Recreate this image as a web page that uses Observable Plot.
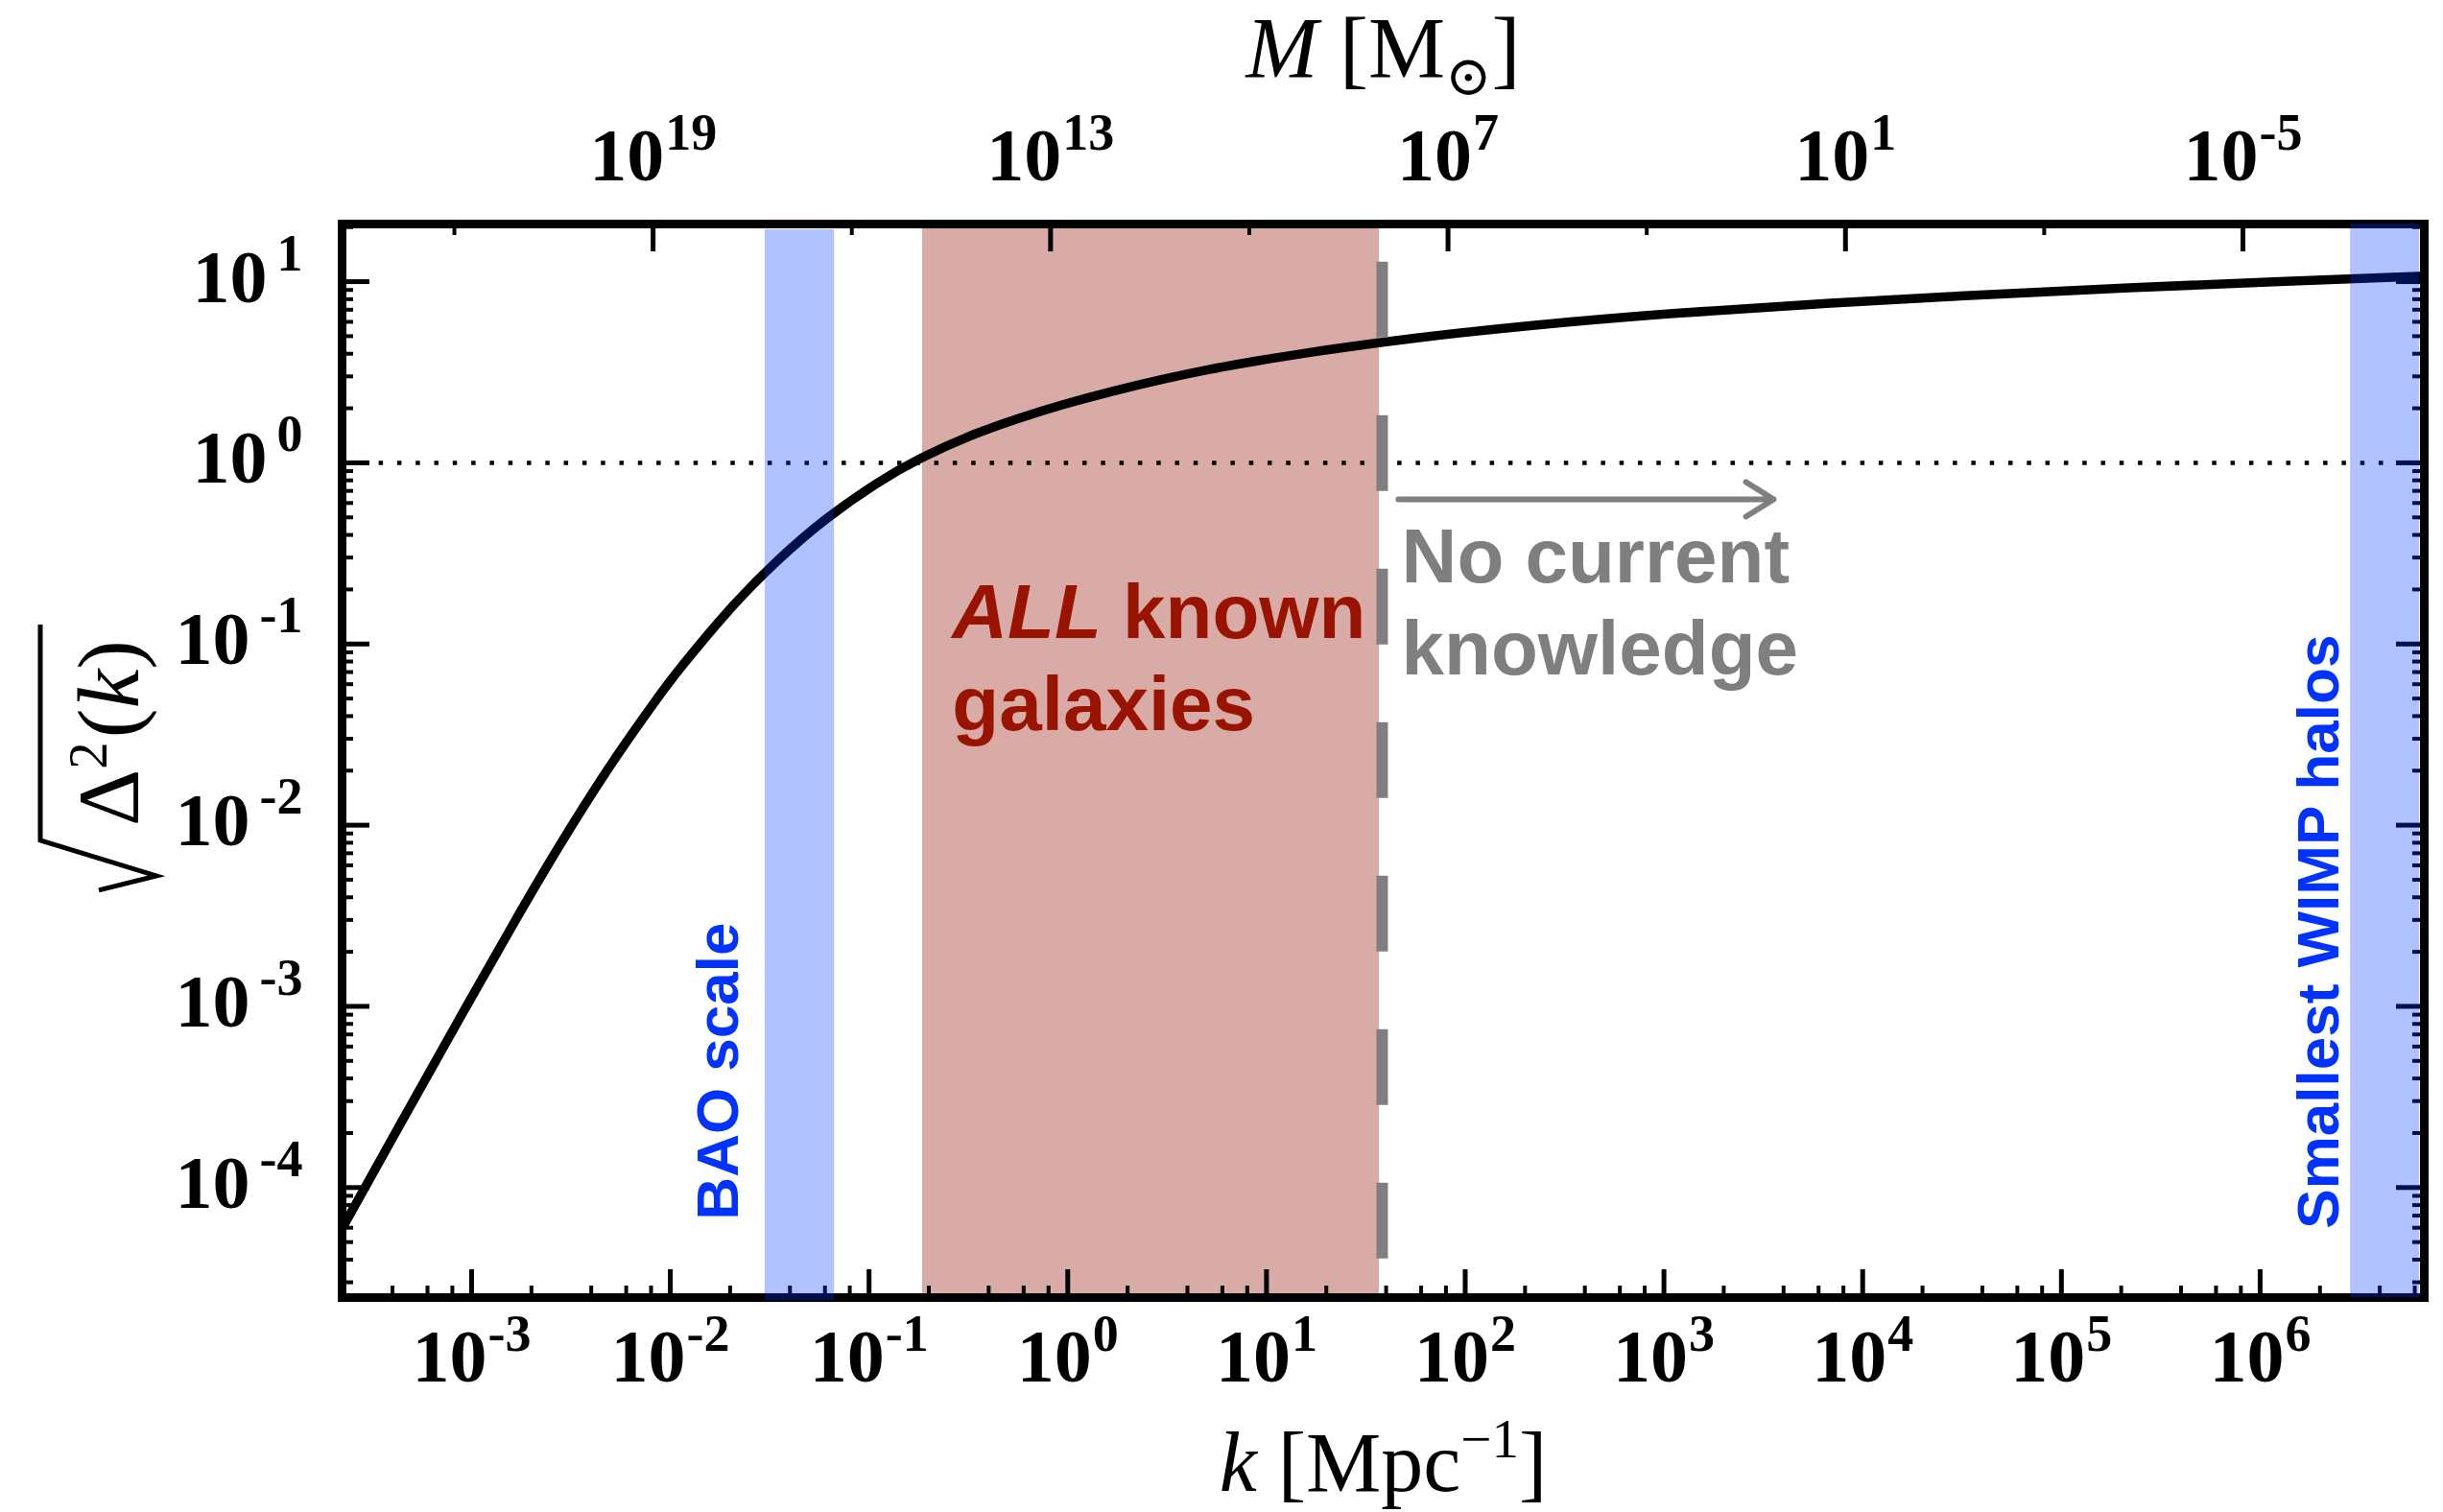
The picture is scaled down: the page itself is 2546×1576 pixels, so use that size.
<!DOCTYPE html>
<html>
<head>
<meta charset="utf-8">
<script src="https://cdn.jsdelivr.net/npm/d3@7"></script>
<script src="https://cdn.jsdelivr.net/npm/@observablehq/plot@0.6"></script>
<style>
  html, body { margin: 0; padding: 0; background: #fff; }
  #chart { width: 2546px; height: 1576px; }
</style>
</head>
<body>
<div id="chart"></div>
<script>
// Amplitude of matter fluctuations sqrt(Δ²(k)) against comoving wavenumber k [Mpc^-1]
const waveNumber = [2.229e-4, 4.296e-4, 8.372e-4, 1.613e-3, 2.690e-3, 4.796e-3, 8.177e-3, 0.011541,
  0.019905, 0.034697, 0.060467, 0.11027, 0.18389, 0.32069, 0.55917, 0.97474, 1.6806, 2.9631,
  5.2240, 9.2101, 16.237, 24.505, 58.32, 211.8, 1110.2, 5820, 30840, 195300, 1.2504e6, 6.7e6];
const amplitude = [5.934e-5, 2.159e-4, 7.955e-4, 2.818e-3, 7.313e-3, 0.01998, 0.04641, 0.07642,
  0.15524, 0.28877, 0.48733, 0.77354, 1.0635, 1.4029, 1.7526, 2.1147, 2.4846, 2.8824,
  3.2840, 3.6739, 4.0554, 4.3307, 4.8999, 5.7135, 6.6711, 7.5158, 8.3304, 9.1865, 10.018, 10.726];

// Axis limits
const kDomain = [2.23e-4, 6.7e6];
const ampDomain = [2.47e-5, 20.8];

// Tick decades
const kDecades = [-3, -2, -1, 0, 1, 2, 3, 4, 5, 6];
const ampDecades = [-4, -3, -2, -1, 0, 1];
const massDecadesLabeled = [19, 13, 7, 1, -5];
const massDecadesBetween = [22, 16, 10, 4, -2];

// Mass enclosed by a mode of wavenumber k:  M = MASS_NORM * k^-3  [M_sun]
const MASS_NORM = 5.5e12;
const kOfMass = m => Math.cbrt(MASS_NORM / m);

// Shaded k ranges
const baoRange = [0.030, 0.067];
const galaxyRange = [0.186, 37];
const wimpRange = [2.85e6, 6.7e6];

// Reference lines
const nonlinearLevel = [1];
const knowledgeEdge = [38.2];
const knowledgeEdgeTop = 12.8;
const arrowSpan = [{k1: 46.1, k2: 3565, amp: 0.629}];

// Annotation anchors [k, amplitude]
const galaxiesAt = [0.262, 0.0333];
const noKnowledgeAt = [47.8, 0.0675];
const baoAt = [0.0220, 6.62e-5];
const wimpAt = [2.49e6, 5.93e-5];

const W = 2546, H = 1576;
const margin = {top: 233, right: 20, bottom: 224, left: 356};
const PW = W - margin.left - margin.right;
const PH = H - margin.top - margin.bottom;
const majorLen = 29, minorLen = 12;

const serif = "'Liberation Serif', 'Times New Roman', Times, serif";
const sans = "'Liberation Sans', Arial, Helvetica, sans-serif";
const grey = "#7f7f7f";
const blue = "#0033ff";

const spectrum = waveNumber.map((k, i) => ({k, amp: amplitude[i]}));

const inDomain = (v, dom) => v >= dom[0] && v <= dom[1];
const kMajor = kDecades.map(e => Math.pow(10, e));
const kMinor = [];
for (let e = -4; e <= 6; e++) for (const d of [2, 4, 6, 8]) {
  const v = d * Math.pow(10, e);
  if (inDomain(v, kDomain)) kMinor.push(v);
}
const ampMajor = ampDecades.map(e => Math.pow(10, e));
const ampMinor = [];
for (let e = -5; e <= 1; e++) for (let d = 2; d <= 9; d++) {
  const v = d * Math.pow(10, e);
  if (inDomain(v, ampDomain)) ampMinor.push(v);
}
const kTopMajor = massDecadesLabeled.map(m => kOfMass(Math.pow(10, m)));
const kTopMinor = massDecadesBetween.map(m => kOfMass(Math.pow(10, m)));

const expText = v => `10^${Math.round(Math.log10(v))}`;

const band = (range, opts) => Plot.rect([range], {
  x1: d => d[0], x2: d => d[1],
  y1: () => ampDomain[0], y2: () => ampDomain[1],
  ...opts
});

const tickFont = {fontFamily: serif, fontWeight: "bold", fontSize: 78, fill: "black"};

const chart = Plot.plot({
  width: W, height: H,
  marginTop: margin.top, marginRight: margin.right,
  marginBottom: margin.bottom, marginLeft: margin.left,
  style: {background: "#fff", overflow: "visible"},
  x: {type: "log", domain: kDomain, axis: null},
  y: {type: "log", domain: ampDomain, axis: null},
  marks: [
    // galaxy range
    band(galaxyRange, {fill: "#d8aba7"}),
    // Δ = 1
    Plot.ruleY(nonlinearLevel, {stroke: "black", strokeWidth: 4.5, strokeDasharray: "4.5,14.8"}),
    // power spectrum
    Plot.line(spectrum, {x: "k", y: "amp", curve: "natural", stroke: "black", strokeWidth: 9.5,
      strokeLinejoin: "round", clip: true}),
    // edge of current knowledge
    Plot.ruleX(knowledgeEdge, {x: d => d, y1: () => knowledgeEdgeTop, y2: () => ampDomain[0],
      stroke: grey, strokeWidth: 12, strokeDasharray: "79,81"}),
    Plot.arrow(arrowSpan, {x1: "k1", x2: "k2", y1: "amp", y2: "amp", stroke: grey,
      strokeWidth: 6, headLength: 8.5, headAngle: 64}),

    // annotations
    Plot.text(["ALL known\ngalaxies"], {x: () => galaxiesAt[0], y: () => galaxiesAt[1], text: d => d,
      textAnchor: "start", lineAnchor: "bottom", lineHeight: 1.21, fontFamily: sans, fontWeight: "bold",
      fontSize: 80, fill: "#981400"}),
    Plot.text(["No current\nknowledge"], {x: () => noKnowledgeAt[0], y: () => noKnowledgeAt[1], text: d => d,
      textAnchor: "start", lineAnchor: "bottom", lineHeight: 1.2, fontFamily: sans, fontWeight: "bold",
      fontSize: 80, fill: grey}),
    Plot.text(["BAO scale"], {x: () => baoAt[0], y: () => baoAt[1], text: d => d, rotate: -90,
      textAnchor: "start", lineAnchor: "bottom", fontFamily: sans, fontWeight: "bold", fontSize: 62, fill: blue}),
    Plot.text(["Smallest WIMP halos"], {x: () => wimpAt[0], y: () => wimpAt[1], text: d => d, rotate: -90,
      textAnchor: "start", lineAnchor: "bottom", fontFamily: sans, fontWeight: "bold", fontSize: 62, fill: blue}),

    // inward ticks: bottom (k) and top (M)
    Plot.ruleX(kMajor, {insetTop: PH - majorLen, strokeWidth: 5}),
    Plot.ruleX(kMinor, {insetTop: PH - minorLen, strokeWidth: 4}),
    Plot.ruleX(kTopMajor, {insetBottom: PH - majorLen, strokeWidth: 5}),
    Plot.ruleX(kTopMinor, {insetBottom: PH - minorLen, strokeWidth: 4}),
    // left and right
    Plot.ruleY(ampMajor, {insetRight: PW - majorLen, strokeWidth: 5}),
    Plot.ruleY(ampMinor, {insetRight: PW - minorLen, strokeWidth: 4}),
    Plot.ruleY(ampMajor, {insetLeft: PW - majorLen, strokeWidth: 5}),
    Plot.ruleY(ampMinor, {insetLeft: PW - minorLen, strokeWidth: 4}),

    Plot.frame({stroke: "black", strokeWidth: 9}),

    // tick labels
    Plot.text(kMajor, {x: d => d, frameAnchor: "bottom", dy: 87, lineAnchor: "bottom",
      text: expText, ...tickFont}),
    Plot.text(ampMajor, {y: d => d, frameAnchor: "left", dx: -41, dy: 21, textAnchor: "end",
      lineAnchor: "bottom", text: expText, ...tickFont}),
    Plot.text(massDecadesLabeled, {x: m => kOfMass(Math.pow(10, m)), frameAnchor: "top", dy: -46,
      lineAnchor: "bottom", text: m => `10^${m}`, ...tickFont}),

    // axis titles
    Plot.text(["k [Mpc−1]"], {frameAnchor: "bottom", dy: 201, lineAnchor: "bottom",
      fontFamily: serif, fontSize: 88, fill: "black"}),
    Plot.text(["M [M⊙]"], {frameAnchor: "top", dy: -153, lineAnchor: "bottom",
      fontFamily: serif, fontSize: 90, fill: "black"}),
    Plot.text(["Δ2(k)"], {frameAnchor: "left", dx: -213, dy: -29, rotate: -90, textAnchor: "middle",
      lineAnchor: "bottom", fontFamily: serif, fontSize: 92, fill: "black"}),

    // shaded BAO and WIMP scales, laid over the axes
    band(baoRange, {fill: blue, fillOpacity: 0.3, insetTop: 6, insetBottom: -3}),
    band(wimpRange, {fill: blue, fillOpacity: 0.3, insetRight: 5})
  ]
});

document.getElementById("chart").append(chart);
const svg = d3.select(chart);
const svgBox = chart.getBoundingClientRect();

// typeset a text element from styled pieces
function typeset(node, parts) {
  const t = d3.select(node);
  t.text(null);
  for (const p of parts) {
    const s = t.append("tspan").text(p.text);
    if (p.italic) s.attr("font-style", "italic");
    if (p.size) s.attr("font-size", p.size);
    if (p.dy) s.attr("dy", p.dy);
    if (p.dx) s.attr("dx", p.dx);
    if (p.family) s.attr("font-family", p.family);
  }
}

let ampTitle = null;
svg.selectAll("text").each(function() {
  const s = this.textContent;
  if (/^10\^/.test(s)) {
    // powers of ten with raised exponents
    const [base, exp] = s.split("^");
    const r = this.getBoundingClientRect();
    const onLeft = r.right - svgBox.left <= margin.left;
    typeset(this, [{text: base}, {text: exp, size: 54, dy: onLeft ? -33 : -32, dx: onLeft ? 10 : 1}]);
  } else if (s === "k [Mpc−1]") {
    typeset(this, [{text: "k", italic: true}, {text: " [Mpc"}, {text: "−1", size: 57, dy: -35},
      {text: "]", dy: 35}]);
  } else if (s === "M [M⊙]") {
    typeset(this, [{text: "M", italic: true}, {text: " [M"},
      {text: "⊙", size: 58, dy: 18, family: "'DejaVu Serif', serif"}, {text: "]", dy: -18}]);
  } else if (s === "Δ2(k)") {
    typeset(this, [{text: "Δ"}, {text: "2", size: 57, dy: -33}, {text: "(", dy: 33, dx: 4},
      {text: "k", italic: true}, {text: ")"}]);
    ampTitle = this;
  }
});

// italic emphasis on "ALL"
svg.selectAll("tspan").each(function() {
  if (this.textContent === "ALL known" && this.children.length === 0) {
    const t = d3.select(this);
    t.text(null);
    t.append("tspan").attr("font-style", "italic").text("ALL");
    t.append("tspan").text(" known");
  }
});

// radical sign around the amplitude title
if (ampTitle) {
  const r = ampTitle.getBoundingClientRect();
  const bx = margin.left - 213;           // baseline of the rotated title
  const top = r.top - svgBox.top, bottom = r.bottom - svgBox.top;
  const ox = bx - 101;
  svg.append("path")
    .attr("d", `M${ox},${top - 16} L${ox},${bottom + 15} L${bx + 20},${bottom + 52} L${bx - 40},${bottom + 67}`)
    .attr("fill", "none").attr("stroke", "black").attr("stroke-width", 5).attr("stroke-linejoin", "miter");
}
</script>
</body>
</html>
